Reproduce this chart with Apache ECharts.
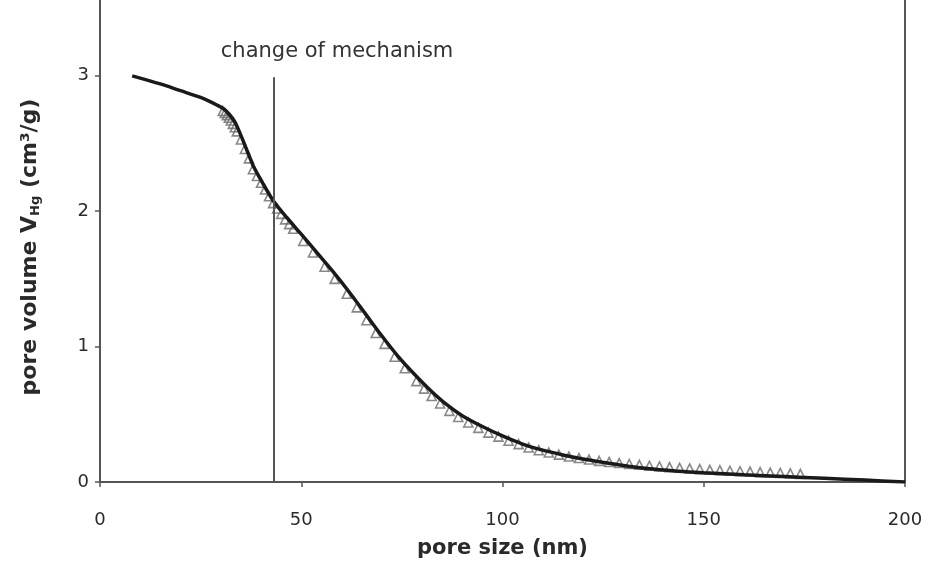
<!DOCTYPE html>
<html>
<head>
<meta charset="utf-8">
<script src="https://cdn.jsdelivr.net/npm/echarts@6/dist/echarts.min.js"></script>
<style>html,body{margin:0;padding:0;background:#fff}#c{width:930px;height:571px}</style>
</head>
<body>
<div id="c"></div>
<script>
// Model curve (thick black line): pore size (nm) vs pore volume (cm3/g)
const modelX = [8, 15, 20, 25, 28, 30.5, 32, 33.5, 35, 36.5, 38, 40, 43, 46.5, 50, 54, 58, 62, 66, 70, 74, 78, 82, 86, 90, 95, 100, 105, 110, 115, 120, 125, 130, 136, 143, 150, 160, 170, 180, 190, 200];
const modelY = [3.0, 2.94, 2.89, 2.84, 2.80, 2.76, 2.72, 2.66, 2.56, 2.45, 2.34, 2.23, 2.08, 1.95, 1.83, 1.69, 1.55, 1.40, 1.24, 1.08, 0.93, 0.80, 0.68, 0.575, 0.49, 0.41, 0.34, 0.28, 0.235, 0.20, 0.17, 0.145, 0.122, 0.10, 0.082, 0.068, 0.053, 0.04, 0.027, 0.014, 0.0];
// Measured data (triangles)
const dataX = [30.5, 31, 31.5, 32, 32.5, 33, 33.5, 34, 35, 36, 37, 38, 39, 40, 41, 42, 43, 44, 45, 46, 47, 48, 50.5, 52.9, 55.8, 58.3, 61.3, 63.8, 66.2, 68.5, 70.7, 73.2, 75.7, 78.6, 80.5, 82.4, 84.5, 86.8, 89, 91.5, 94, 96.5, 99, 101.5, 104, 106.5, 109, 111.5, 114, 116.5, 119, 121.5, 124, 126.5, 129, 131.5, 134, 136.5, 139, 141.5, 144, 146.5, 149, 151.5, 154, 156.5, 159, 161.5, 164, 166.5, 169, 171.5, 174];
const dataY = [2.74, 2.725, 2.71, 2.69, 2.67, 2.645, 2.62, 2.59, 2.53, 2.46, 2.39, 2.31, 2.26, 2.21, 2.16, 2.11, 2.06, 2.02, 1.98, 1.94, 1.905, 1.87, 1.78, 1.695, 1.59, 1.50, 1.39, 1.29, 1.195, 1.10, 1.02, 0.925, 0.84, 0.745, 0.69, 0.635, 0.58, 0.525, 0.48, 0.44, 0.40, 0.365, 0.335, 0.305, 0.28, 0.255, 0.235, 0.218, 0.202, 0.188, 0.177, 0.166, 0.156, 0.148, 0.14, 0.133, 0.127, 0.12, 0.115, 0.11, 0.105, 0.10, 0.095, 0.09, 0.087, 0.083, 0.08, 0.077, 0.073, 0.07, 0.067, 0.064, 0.06];
const xTicks = [0, 50, 100, 150, 200];
const yTicks = [0, 1, 2, 3];
const mechanismX = 43.2;
const mechanismTop = 2.99;
const annotationText = 'change of mechanism';
const annotationPos = [58.9, 3.18];

const FONT = '"DejaVu Sans", "Liberation Sans", Arial, sans-serif';
const AX = '#555';
const TXT = '#2a2a2a';
const chart = echarts.init(document.getElementById('c'));
chart.setOption({
  animation: false,
  backgroundColor: '#fff',
  grid: { left: 100, right: 25, top: 0, bottom: 89 },
  xAxis: {
    type: 'value', min: xTicks[0], max: xTicks[xTicks.length - 1], interval: 50,
    name: 'pore size (nm)', nameLocation: 'middle', nameGap: 56,
    nameTextStyle: { fontFamily: FONT, fontSize: 21, fontWeight: 'bold', color: TXT },
    axisLine: { lineStyle: { color: AX, width: 2 } },
    axisTick: { length: 5, lineStyle: { color: AX, width: 1.5 } },
    axisLabel: { fontFamily: FONT, fontSize: 18, color: TXT, margin: 29 },
    splitLine: { show: false }
  },
  yAxis: [{
    type: 'value', min: 0, max: 3.56, interval: 1,
    name: '{n|pore volume V}{s|Hg}{n| (cm³/g)}', nameLocation: 'middle', nameGap: 58,
    nameTextStyle: {
      fontFamily: FONT, color: TXT, padding: [0, 12, 0, 0],
      rich: {
        n: { fontFamily: FONT, fontSize: 22, fontWeight: 'bold', color: TXT, lineHeight: 24 },
        s: { fontFamily: FONT, fontSize: 13, fontWeight: 'bold', color: TXT, verticalAlign: 'bottom', lineHeight: 24, padding: [9, 0, 0, 0] }
      }
    },
    axisLine: { show: true, lineStyle: { color: AX, width: 2 } },
    axisTick: { show: true, length: 5, customValues: yTicks, lineStyle: { color: AX, width: 1.5 } },
    axisLabel: { fontFamily: FONT, fontSize: 18, color: TXT, margin: 11, customValues: yTicks,
      formatter: v => (yTicks.indexOf(v) >= 0 ? String(v) : '') },
    splitLine: { show: false }
  }, {
    type: 'value', min: 0, max: 3.56, position: 'right',
    axisLine: { show: true, lineStyle: { color: AX, width: 2 } },
    axisTick: { show: false }, axisLabel: { show: false }, splitLine: { show: false }
  }],
  series: [
    {
      type: 'scatter', name: 'data',
      data: dataX.map((x, i) => [x, dataY[i]]),
      symbol: 'triangle', symbolSize: 9,
      itemStyle: { color: 'rgba(255,255,255,0)', borderColor: '#6a6a6a', borderWidth: 1.6 },
      z: 2
    },
    {
      type: 'line', name: 'model',
      data: modelX.map((x, i) => [x, modelY[i]]),
      smooth: 0.3, showSymbol: false,
      lineStyle: { color: '#1a1a1a', width: 3.5 },
      z: 3,
      markLine: {
        silent: true, symbol: ['none', 'none'],
        lineStyle: { color: '#555', width: 2, type: 'solid' },
        label: { show: false },
        data: [[{ coord: [mechanismX, 0] }, { coord: [mechanismX, mechanismTop] }]]
      },
      markPoint: {
        silent: true, symbol: 'circle', symbolSize: 0,
        label: { show: true, formatter: annotationText, fontFamily: FONT, fontSize: 21, color: '#333', position: 'inside' },
        data: [{ coord: annotationPos }]
      }
    }
  ]
});
</script>
</body>
</html>
